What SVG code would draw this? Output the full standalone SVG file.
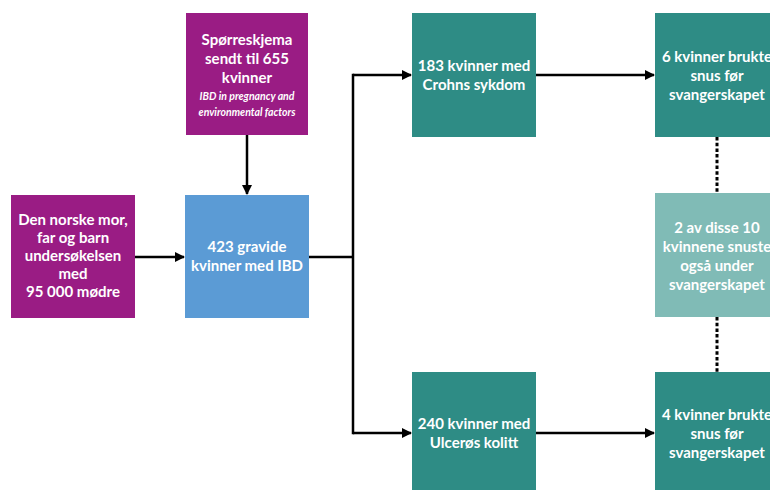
<svg xmlns="http://www.w3.org/2000/svg" width="770" height="490" viewBox="0 0 770 490">
<style>
.t{font-family:Lato,"Open Sans","Liberation Sans",sans-serif;font-weight:700;font-size:15px;fill:#fff;text-anchor:middle}
.i{font-family:Lato,"Open Sans","Liberation Sans",sans-serif;font-weight:700;font-style:italic;font-size:10.5px;fill:#fff;text-anchor:middle}
.p{fill:#9A1C84}.b{fill:#5B9BD5}.g{fill:#2E8C85}.l{fill:#80BBB6}
.c{stroke:#000;stroke-width:2.5;fill:none}
.d{stroke:#000;stroke-width:3;fill:none;stroke-dasharray:3.5 2.2}
</style>
<defs>
<marker id="a" markerWidth="10" markerHeight="10" refX="9" refY="5" orient="auto" markerUnits="userSpaceOnUse">
<path d="M0,0 L10,5 L0,10 Z" fill="#000"/>
</marker>
</defs>
<g id="q">
<rect class="p" x="186" y="13" width="122" height="122"/>
<text class="t" x="247" y="45">Spørreskjema</text>
<text class="t" x="247" y="64">sendt til 655</text>
<text class="t" x="247" y="83">kvinner</text>
<text class="i" x="247" y="100">IBD in pregnancy and</text>
<text class="i" x="247" y="116">environmental factors</text>
</g>
<g id="moba">
<rect class="p" x="11" y="195" width="124" height="123"/>
<text class="t" x="73" y="225">Den norske mor,</text>
<text class="t" x="73" y="243">far og barn</text>
<text class="t" x="73" y="261">undersøkelsen</text>
<text class="t" x="73" y="279">med</text>
<text class="t" x="73" y="297">95 000 mødre</text>
</g>
<g id="ibd">
<rect class="b" x="185" y="195" width="124" height="123"/>
<text class="t" x="247" y="252">423 gravide</text>
<text class="t" x="247" y="271">kvinner med IBD</text>
</g>
<g id="cd">
<rect class="g" x="412" y="13" width="124" height="124"/>
<text class="t" x="474" y="71">183 kvinner med</text>
<text class="t" x="474" y="90">Crohns sykdom</text>
</g>
<g id="uc">
<rect class="g" x="412" y="372" width="124" height="124"/>
<text class="t" x="474" y="429">240 kvinner med</text>
<text class="t" x="474" y="448">Ulcerøs kolitt</text>
</g>
<g id="cd6">
<rect class="g" x="655" y="13" width="124" height="124"/>
<text class="t" x="717" y="62">6 kvinner brukte</text>
<text class="t" x="717" y="81">snus før</text>
<text class="t" x="717" y="100">svangerskapet</text>
</g>
<g id="both">
<rect class="l" x="655" y="193" width="124" height="124"/>
<text class="t" x="717" y="233">2 av disse 10</text>
<text class="t" x="717" y="252">kvinnene snuste</text>
<text class="t" x="717" y="271">også under</text>
<text class="t" x="717" y="290">svangerskapet</text>
</g>
<g id="uc4">
<rect class="g" x="655" y="372" width="124" height="124"/>
<text class="t" x="717" y="420">4 kvinner brukte</text>
<text class="t" x="717" y="439">snus før</text>
<text class="t" x="717" y="458">svangerskapet</text>
</g>
<g id="connectors">
<line class="c" x1="247" y1="135" x2="247" y2="194" marker-end="url(#a)"/>
<line class="c" x1="135" y1="257" x2="184" y2="257" marker-end="url(#a)"/>
<line class="c" x1="309" y1="257" x2="353" y2="257"/>
<line class="c" x1="353" y1="73.75" x2="353" y2="434.25"/>
<line class="c" x1="353" y1="75" x2="411" y2="75" marker-end="url(#a)"/>
<line class="c" x1="353" y1="433" x2="411" y2="433" marker-end="url(#a)"/>
<line class="c" x1="536" y1="75" x2="654" y2="75" marker-end="url(#a)"/>
<line class="c" x1="536" y1="433" x2="654" y2="433" marker-end="url(#a)"/>
<line class="d" x1="717" y1="137" x2="717" y2="193"/>
<line class="d" x1="717" y1="317" x2="717" y2="372"/>
</g>
</svg>
